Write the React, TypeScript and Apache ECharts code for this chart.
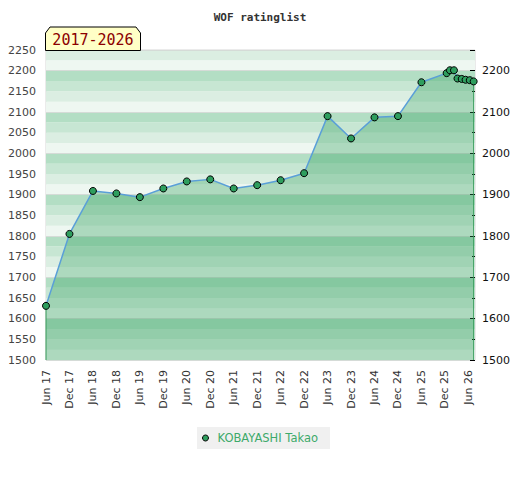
import React, { useEffect, useRef } from "react";
import * as echarts from "echarts";

const seriesName = "KOBAYASHI Takao";
const dates = [
  "2017-06-01", "2017-12-01", "2018-06-01", "2018-12-01", "2019-06-01", "2019-12-01",
  "2020-06-01", "2020-12-01", "2021-06-01", "2021-12-01", "2022-06-01", "2022-12-01",
  "2023-06-01", "2023-12-01", "2024-06-01", "2024-12-01", "2025-06-01", "2025-12-15",
  "2026-01-10", "2026-02-10", "2026-03-08", "2026-04-10", "2026-05-10", "2026-06-12",
  "2026-07-12",
];
const ratings = [
  1631, 1805, 1909, 1903, 1894, 1915,
  1932, 1937, 1915, 1923, 1935, 1952,
  2090, 2036, 2087, 2090, 2172, 2194,
  2201, 2201, 2181, 2180, 2178, 2177,
  2174,
];
const yMin = 1500;
const yMax = 2250;
const rangeLabel = "2017-2026";
const stripeColors = ["#eef7f1", "#dbeee2", "#c7e6d3", "#b3dec4"];

// months since June 2017
function monthIndex(s: string): number {
  const [y, m, d] = s.split("-").map(Number);
  const dim = new Date(y, m, 0).getDate();
  return (y - 2017) * 12 + (m - 6) + (d - 1) / dim;
}

function xLabel(v: number): string {
  if (Math.abs(v % 6) > 1e-6) return "";
  const mon = v % 12 === 0 ? "Jun" : "Dec";
  const yr = 17 + Math.floor(v / 12);
  return mon + " " + yr;
}

export default function App() {
  const ref = useRef<HTMLDivElement>(null);
  useEffect(() => {
    document.body.style.margin = "0";
    const chart = echarts.init(ref.current!, null, { renderer: "svg" });
    const pts = dates.map((d, i) => [monthIndex(d), ratings[i]]);
    const first = pts[0];
    const last = pts[pts.length - 1];
    const font = "DejaVu Sans";
    chart.setOption({
      animation: false,
      backgroundColor: "#ffffff",
      title: {
        text: "WOF ratinglist",
        left: "center",
        top: 7,
        textStyle: {
          fontFamily: "DejaVu Sans Mono",
          fontWeight: "bold",
          fontSize: 11,
          color: "#333",
        },
      },
      legend: {
        data: [seriesName],
        left: "center",
        top: 427,
        backgroundColor: "#f0f0f0",
        padding: [5, 12, 5, 5],
        icon: "circle",
        itemWidth: 14,
        itemHeight: 6,
        itemStyle: { borderWidth: 1, borderColor: "#000" },
        textStyle: { color: "#3daa6a", fontSize: 11.5, fontFamily: font },
      },
      grid: {
        left: 46,
        right: 45,
        top: 50,
        bottom: 120,
        show: true,
        borderColor: "#d6d6d6",
        borderWidth: 1,
      },
      xAxis: {
        type: "value",
        min: 0,
        max: 109.7,
        interval: 6,
        axisLine: { show: false },
        axisTick: { show: false },
        splitLine: { show: false },
        axisLabel: {
          rotate: 90,
          margin: 10,
          fontSize: 11,
          fontFamily: font,
          color: "#333",
          showMaxLabel: false,
          formatter: (v: number) => xLabel(v),
        },
      },
      yAxis: [
        {
          type: "value",
          position: "left",
          min: yMin,
          max: yMax,
          interval: 25,
          axisLine: { show: false },
          axisTick: { show: false },
          axisLabel: { show: false },
          splitLine: { show: false },
          splitArea: { show: true, areaStyle: { color: stripeColors } },
        },
        {
          type: "value",
          position: "left",
          min: yMin,
          max: yMax,
          interval: 50,
          axisLine: { show: false },
          axisTick: { show: false },
          splitLine: { show: false },
          axisLabel: {
            color: "#444",
            fontSize: 11,
            fontFamily: font,
            margin: 10,
            formatter: (v: number) => String(v),
          },
        },
        {
          type: "value",
          position: "right",
          min: yMin,
          max: yMax,
          interval: 100,
          axisLine: { show: false },
          axisTick: { show: true, inside: true, length: 5, lineStyle: { color: "#000" } },
          minorTick: { show: true, splitNumber: 2, length: 3, lineStyle: { color: "#000" } },
          splitLine: { show: true, lineStyle: { color: "#d5dbd7", width: 1 } },
          axisLabel: {
            color: "#111",
            fontSize: 11,
            fontFamily: font,
            margin: 7,
            showMaxLabel: false,
            formatter: (v: number) => String(v),
          },
        },
      ],
      graphic: [
        {
          type: "polygon",
          z: 100,
          shape: {
            points: [
              [45.5, 50.5],
              [45.5, 33],
              [50, 27],
              [136, 27],
              [140.5, 33],
              [140.5, 50.5],
            ],
          },
          style: { fill: "#ffffc6", stroke: "#000", lineWidth: 1 },
        },
        {
          type: "text",
          z: 101,
          x: 93,
          y: 40,
          style: {
            text: rangeLabel,
            fill: "#8b0000",
            font: "15px 'DejaVu Sans Mono'",
            textAlign: "center",
            textVerticalAlign: "middle",
          },
        },
      ],
      series: [
        {
          type: "line",
          name: "edgeL",
          yAxisIndex: 1,
          data: [first, [first[0], yMin]],
          symbol: "none",
          lineStyle: { color: "#3c9c5c", width: 1 },
          z: 3,
        },
        {
          type: "line",
          name: "edgeR",
          yAxisIndex: 1,
          data: [last, [last[0], yMin]],
          symbol: "none",
          lineStyle: { color: "#3c9c5c", width: 1 },
          z: 3,
        },
        {
          type: "line",
          name: seriesName,
          yAxisIndex: 1,
          data: pts,
          symbol: "circle",
          symbolSize: 7,
          lineStyle: { color: "#5a9fd8", width: 1.5 },
          itemStyle: { color: "#2e9e5e", borderColor: "#000", borderWidth: 1 },
          areaStyle: { color: "rgba(45,158,88,0.48)", origin: "start" },
          z: 4,
        },
      ],
    });
    return () => chart.dispose();
  }, []);
  return <div ref={ref} style={{ width: 520, height: 480 }} />;
}
